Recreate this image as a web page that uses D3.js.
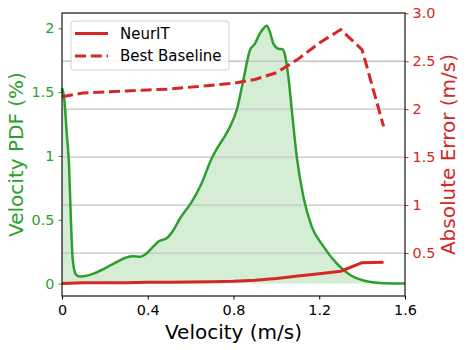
<!DOCTYPE html>
<html><head><meta charset="utf-8">
<script src="https://cdn.jsdelivr.net/npm/d3@7"></script>
<style>
html,body{margin:0;padding:0;background:#fff;}
svg{display:block;font-family:"DejaVu Sans",sans-serif;}
</style></head>
<body>
<svg id="c" width="468" height="350"></svg>
<script>
// ---- data ----
const pdfVelocity = [0,0.011,0.022,0.033,0.041,0.05,0.065,0.084,0.1,0.15,0.2,0.25,0.3,0.33,0.364,0.39,0.42,0.45,0.488,0.52,0.55,0.58,0.605,0.65,0.698,0.72,0.75,0.784,0.815,0.846,0.877,0.9,0.92,0.94,0.955,0.97,0.986,1.009,1.03,1.04,1.056,1.072,1.095,1.126,1.165,1.22,1.28,1.344,1.406,1.5,1.6];
const pdfValues   = [1.53,1.44,1.18,0.92,0.525,0.19,0.07,0.055,0.057,0.08,0.12,0.165,0.205,0.215,0.21,0.23,0.28,0.33,0.355,0.42,0.51,0.58,0.64,0.78,0.98,1.05,1.13,1.23,1.36,1.595,1.83,1.88,1.95,2.0,2.02,1.97,1.88,1.84,1.835,1.79,1.62,1.36,0.995,0.68,0.446,0.29,0.16,0.068,0.024,0.003,0];
const errVelocity = [0,0.1,0.2,0.3,0.4,0.5,0.6,0.7,0.8,0.9,1.0,1.1,1.2,1.3,1.4,1.5];
const neuritError = [0.183,0.19,0.19,0.19,0.195,0.195,0.197,0.2,0.205,0.215,0.235,0.26,0.285,0.31,0.4,0.405];
const baselineError = [2.13,2.17,2.18,2.19,2.2,2.21,2.23,2.25,2.27,2.31,2.38,2.52,2.69,2.83,2.62,1.82];
const xTicks = [0,0.4,0.8,1.2,1.6];
const xTickLabels = ["0","0.4","0.8","1.2","1.6"];
const leftTicks = [0,0.5,1,1.5,2];
const leftTickLabels = ["0","0.5","1","1.5","2"];
const rightTicks = [0.5,1,1.5,2,2.5,3];
const rightTickLabels = ["0.5","1","1.5","2","2.5","3.0"];
const seriesNames = ["NeurIT","Best Baseline"];

// ---- layout ----
const L=62, R=405, T=13, B=296;
const GREEN="#2ca02c", RED="#d62728";
const svg=d3.select("#c");
const x=d3.scaleLinear().domain([0,1.6]).range([L,R]);
const yL=d3.scaleLinear().domain([-0.097,2.12]).range([B,T]);
const yR=d3.scaleLinear().domain([0.052,3.003]).range([B,T]);

const pdf=pdfVelocity.map((v,i)=>({x:v,y:pdfValues[i]}));

// fill
svg.append("path").datum(pdf)
 .attr("d",d3.area().x(d=>x(d.x)).y0(yL(0)).y1(d=>yL(d.y)).curve(d3.curveMonotoneX))
 .attr("fill",GREEN).attr("fill-opacity",0.2);

// gridlines (right axis)
svg.append("g").selectAll("line").data(rightTicks.filter(t=>t<3)).join("line")
 .attr("x1",L).attr("x2",R).attr("y1",d=>yR(d)).attr("y2",d=>yR(d))
 .attr("stroke","#c4c4c4").attr("stroke-width",1.3);

// green line
svg.append("path").datum(pdf)
 .attr("d",d3.line().x(d=>x(d.x)).y(d=>yL(d.y)).curve(d3.curveMonotoneX))
 .attr("fill","none").attr("stroke",GREEN).attr("stroke-width",2.5).attr("stroke-linejoin","round");

// red lines
const neur=errVelocity.map((v,i)=>({x:v,y:neuritError[i]}));
const base=errVelocity.map((v,i)=>({x:v,y:baselineError[i]}));
const lineR=d3.line().x(d=>x(d.x)).y(d=>yR(d.y));
svg.append("path").datum(neur).attr("d",lineR).attr("fill","none")
 .attr("stroke",RED).attr("stroke-width",3).attr("stroke-linejoin","round");
svg.append("path").datum(base).attr("d",lineR).attr("fill","none")
 .attr("stroke",RED).attr("stroke-width",3).attr("stroke-dasharray","11,4.8");

// axes
const fs="14.4px";
const gx=svg.append("g").attr("transform",`translate(0,${B})`)
 .call(d3.axisBottom(x).tickValues(xTicks).tickFormat((d,i)=>xTickLabels[i]).tickSize(3.5).tickPadding(5));
gx.selectAll("text").attr("font-size",fs).attr("fill","#000").attr("font-family","DejaVu Sans");
gx.selectAll("line").attr("stroke","#000");
const gl=svg.append("g").attr("transform",`translate(${L},0)`)
 .call(d3.axisLeft(yL).tickValues(leftTicks).tickFormat((d,i)=>leftTickLabels[i]).tickSize(3.5).tickPadding(4));
gl.selectAll("text").attr("font-size",fs).attr("fill",GREEN).attr("font-family","DejaVu Sans");
gl.selectAll("line").attr("stroke",GREEN);
const gr=svg.append("g").attr("transform",`translate(${R},0)`)
 .call(d3.axisRight(yR).tickValues(rightTicks).tickFormat((d,i)=>rightTickLabels[i]).tickSize(3.5).tickPadding(4));
gr.selectAll("text").attr("font-size",fs).attr("fill",RED).attr("font-family","DejaVu Sans");
gr.selectAll("line").attr("stroke",RED);
[gx,gl,gr].forEach(g=>g.select(".domain").remove());

// frame
svg.append("rect").attr("x",L).attr("y",T).attr("width",R-L).attr("height",B-T)
 .attr("fill","none").attr("stroke","#000").attr("stroke-width",1.1);

// axis labels
svg.append("text").attr("x",(L+R)/2).attr("y",339).attr("text-anchor","middle")
 .attr("font-size","20px").attr("fill","#000").text("Velocity (m/s)");
svg.append("text").attr("transform",`translate(23,${(T+B)/2}) rotate(-90)`).attr("text-anchor","middle")
 .attr("font-size","20px").attr("fill",GREEN).text("Velocity PDF (%)");
svg.append("text").attr("transform",`translate(455,${(T+B)/2}) rotate(-90)`).attr("text-anchor","middle")
 .attr("font-size","20px").attr("fill",RED).text("Absolute Error (m/s)");

// legend
const lg=svg.append("g");
lg.append("rect").attr("x",71).attr("y",21).attr("width",158).attr("height",49).attr("rx",3)
 .attr("fill","#fff").attr("fill-opacity",0.85).attr("stroke","#d0d0d0").attr("stroke-width",1);
seriesNames.forEach((n,i)=>{
  const yy=33.5+i*22.5;
  lg.append("line").attr("x1",75).attr("x2",108).attr("y1",yy).attr("y2",yy)
    .attr("stroke",RED).attr("stroke-width",3).attr("stroke-dasharray",i?"11,4.8":null);
  lg.append("text").attr("x",120).attr("y",yy).attr("dy","0.36em").attr("font-size","15px").attr("fill","#000").text(n);
});
</script>
</body></html>
